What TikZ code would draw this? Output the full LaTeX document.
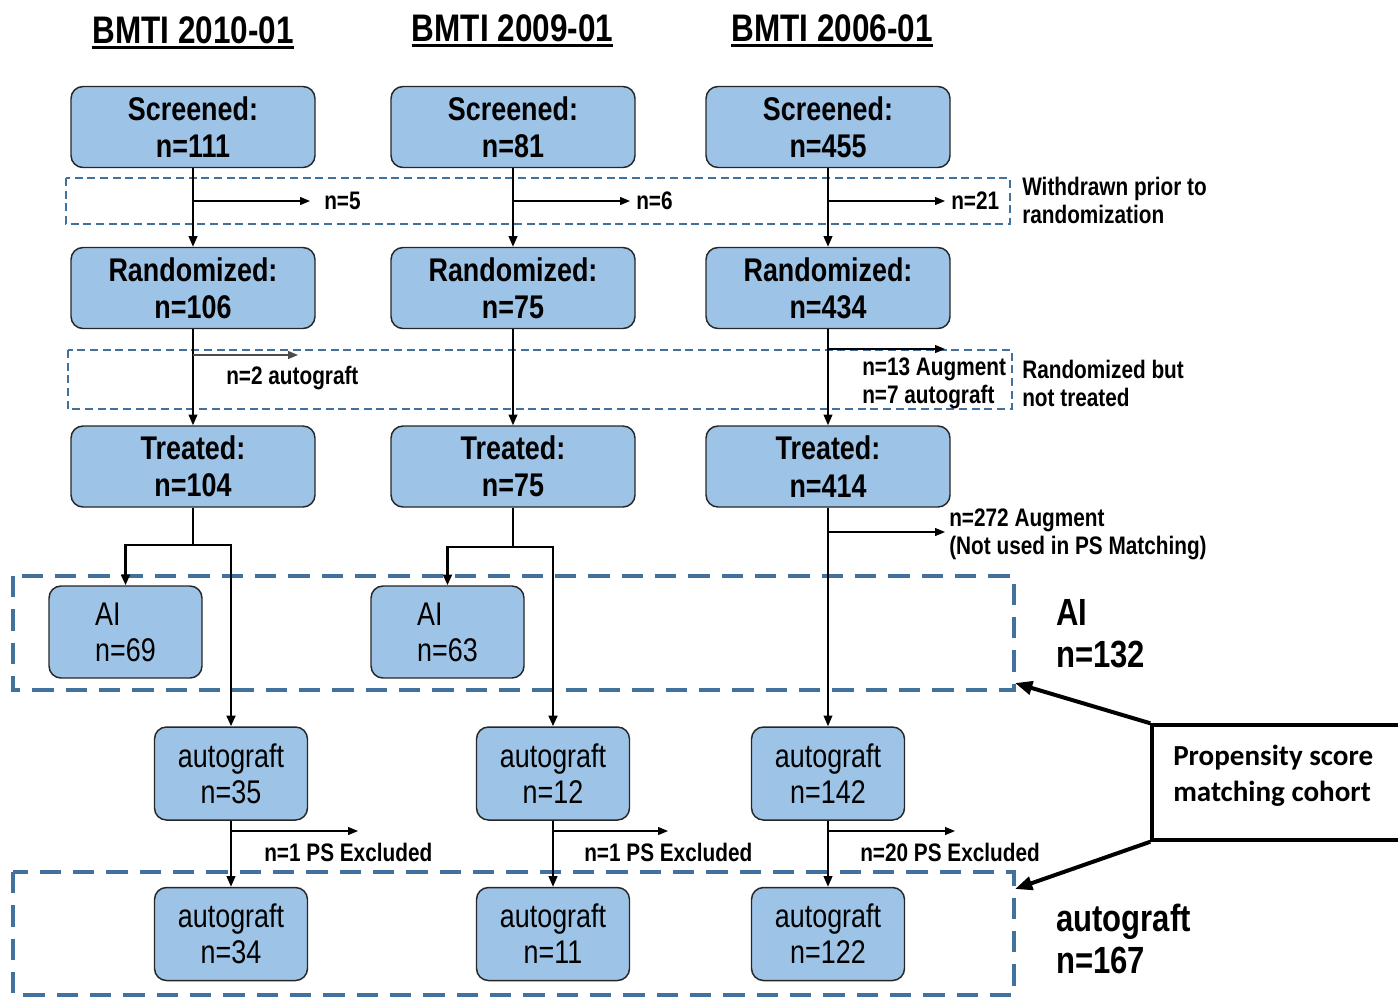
\documentclass[tikz,border=0pt]{standalone}
\usepackage{fontspec}
\setmainfont{Liberation Sans}[FakeStretch=0.82]
\newfontfamily\calfont{Carlito}
\usetikzlibrary{arrows.meta}
\definecolor{boxfill}{RGB}{157,195,230}
\definecolor{dashblue}{RGB}{65,113,156}
\newcommand\hdrfont{\fontsize{28.8}{32}\selectfont\bfseries}
\newcommand\boldboxfont{\fontsize{24.6}{28}\selectfont\bfseries}
\newcommand\regboxfont{\fontsize{24.6}{27}\selectfont}
\newcommand\lblfont{\fontsize{19}{21}\selectfont\bfseries}
\newcommand\bigfont{\fontsize{28.4}{31.5}\selectfont\bfseries}
\newcommand\psfont{\calfont\fontsize{21.8}{27}\selectfont\bfseries}
\begin{document}
\begin{tikzpicture}[x=0.75pt,y=-0.75pt,
  hdr/.style={font=\hdrfont, inner sep=0pt, anchor=base},
  box/.style={draw=black!85, line width=1.1pt, fill=boxfill, rounded corners=9pt,
    minimum width=183pt, minimum height=60.75pt, align=center, inner sep=0pt, font=\boldboxfont},
  abox/.style={draw=black!85, line width=1.1pt, fill=boxfill, rounded corners=9pt,
    minimum width=114.75pt, minimum height=69pt, align=left, inner sep=0pt, font=\regboxfont},
  gbox/.style={draw=black!85, line width=1.1pt, fill=boxfill, rounded corners=9pt,
    minimum width=114.75pt, minimum height=69.75pt, align=center, inner sep=0pt, font=\regboxfont},
  lbl/.style={font=\lblfont, inner sep=0pt, anchor=west, align=left},
  biglbl/.style={font=\bigfont, inner sep=0pt, anchor=west, align=left},
  arr/.style={line width=1.4pt, -{Triangle[length=8pt,width=6.5pt]}},
  sarr/.style={line width=0.9pt, -{Triangle[length=7.5pt,width=6pt]}},
  splitline/.style={line width=2pt},
  splitarr/.style={line width=2pt, -{Triangle[length=8pt,width=6.5pt]}},
  thindash/.style={draw=dashblue, line width=1.1pt, dash pattern=on 6pt off 3.5pt},
  thickdash/.style={draw=dashblue, line width=2.6pt, dash pattern=on 16pt off 9pt},
  psbox/.style={draw=black, line width=2.6pt, fill=white, minimum width=201pt, minimum height=86.25pt, inner sep=0pt},
  bigarr/.style={line width=3pt, -{Triangle[length=13pt,width=10pt]}}
]
\useasboundingbox (0,0) rectangle (1398,997);
\clip (0,0) rectangle (1398,997);

% headers
\node[hdr] (hd1) at (193,43) {BMTI 2010-01};
\node[hdr] (hd2) at (512.5,41) {BMTI 2009-01};
\node[hdr] (hd3) at (832,41) {BMTI 2006-01};
\foreach \h in {hd1,hd2,hd3}
  \draw[line width=2.2pt] ([yshift=-3.5pt]\h.base west) -- ([yshift=-3.5pt]\h.base east);

% dashed groups
\draw[thindash] (66,178) rectangle (1010,224);
\draw[thindash] (68,350) rectangle (1012,409);
\draw[thickdash] (13,576) rectangle (1014,690);
\draw[thickdash] (13,872) rectangle (1014,995);

% main boxes
\node[box] (s1) at (193,127) {Screened:\\n=111};
\node[box] (s2) at (513,127) {Screened:\\n=81};
\node[box] (s3) at (828,127) {Screened:\\n=455};
\node[box] (r1) at (193,288) {Randomized:\\n=106};
\node[box] (r2) at (513,288) {Randomized:\\n=75};
\node[box] (r3) at (828,288) {Randomized:\\n=434};
\node[box] (t1) at (193,466.5) {Treated:\\n=104};
\node[box] (t2) at (513,466.5) {Treated:\\n=75};
\node[box] (t3) at (828,466.5) {Treated:\\n=414};

\node[abox] (a1) at (125.5,632) {AI\\n=69};
\node[abox] (a2) at (447.5,632) {AI\\n=63};

\node[gbox] (g1) at (231,773.5) {autograft\\n=35};
\node[gbox] (g2) at (553,773.5) {autograft\\n=12};
\node[gbox] (g3) at (828,773.5) {autograft\\n=142};
\node[gbox] (f1) at (231,934) {autograft\\n=34};
\node[gbox] (f2) at (553,934) {autograft\\n=11};
\node[gbox] (f3) at (828,934) {autograft\\n=122};

% screened -> randomized
\draw[arr] (s1) -- (r1);
\draw[arr] (s2) -- (r2);
\draw[arr] (s3) -- (r3);
\coordinate (w1) at (193,201); \coordinate (w1e) at (310,201);
\coordinate (w2) at (513,201); \coordinate (w2e) at (630,201);
\coordinate (w3) at (828,201); \coordinate (w3e) at (945,201);
\draw[sarr] (w1) -- (w1e);
\draw[sarr] (w2) -- (w2e);
\draw[sarr] (w3) -- (w3e);
\node[lbl] (lw1) at (324,201) {n=5};
\node[lbl] (lw2) at (636,201) {n=6};
\node[lbl] (lw3) at (951,201) {n=21};
\node[lbl] (lwd) at (1022,200) {Withdrawn prior to\\randomization};

% randomized -> treated
\draw[arr] (r1) -- (t1);
\draw[arr] (r2) -- (t2);
\draw[arr] (r3) -- (t3);
\coordinate (n1) at (193,355); \coordinate (n1e) at (298,355);
\coordinate (n3) at (828,349); \coordinate (n3e) at (945,349);
\draw[sarr, draw=black!70] (n1) -- (n1e);
\draw[sarr] (n3) -- (n3e);
\node[lbl] (ln1) at (226,378) {n=2 autograft};
\node[lbl] (ln3) at (862,383) {n=13 Augment\\n=7 autograft};
\node[lbl] (lnt) at (1022,383) {Randomized but\\not treated};

% treated -> AI / autograft
\coordinate (sp1) at (193,545);
\coordinate (sp2) at (513,547);
\draw[splitline] (t1) -- (sp1);
\draw[splitarr] (sp1) -| (a1);
\draw[splitarr] (sp1) -| (g1);
\draw[splitline] (t2) -- (sp2);
\draw[splitarr] (sp2) -| (a2);
\draw[splitarr] (sp2) -| (g2);
\draw[arr, line width=1.1pt] (t3) -- (g3);
\coordinate (m3) at (828,532); \coordinate (m3e) at (945,532);
\draw[sarr] (m3) -- (m3e);
\node[lbl] (lm3) at (949,534) {n=272 Augment\\(Not used in PS Matching)};

% autograft -> autograft
\draw[arr] (g1) -- (f1);
\draw[arr] (g2) -- (f2);
\draw[arr] (g3) -- (f3);
\coordinate (x1) at (231,831); \coordinate (x1e) at (358,831);
\coordinate (x2) at (553,831); \coordinate (x2e) at (668,831);
\coordinate (x3) at (828,831); \coordinate (x3e) at (955,831);
\draw[sarr] (x1) -- (x1e);
\draw[sarr] (x2) -- (x2e);
\draw[sarr] (x3) -- (x3e);
\node[lbl] (lx1) at (264,852) {n=1 PS Excluded};
\node[lbl] (lx2) at (584,852) {n=1 PS Excluded};
\node[lbl] (lx3) at (860,852) {n=20 PS Excluded};

% right labels
\node[biglbl] (lai) at (1056,634) {AI\\n=132};
\node[biglbl] (lag) at (1056,939) {autograft\\n=167};

% propensity box
\node[psbox] (ps) at (1286,782.5) {};
\node[font=\psfont, inner sep=0pt, anchor=west, align=left] (pst) at (1173,775.5) {Propensity score\\matching cohort};
\coordinate (c1) at (1015,683);
\coordinate (c2) at (1015,889);
\draw[bigarr] (ps.north west) -- (c1);
\draw[bigarr] (ps.south west) -- (c2);
\end{tikzpicture}
\end{document}
